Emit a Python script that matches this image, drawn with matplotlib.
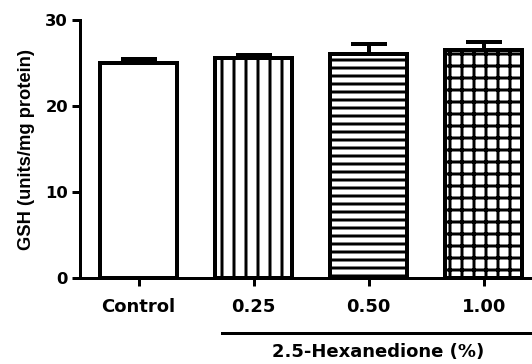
import matplotlib
matplotlib.use("Agg")
import matplotlib.pyplot as plt
import matplotlib.transforms as mtransforms

categories = ["Control", "0.25", "0.50", "1.00"]
means = [25.0, 25.6, 26.0, 26.5]
errors = [0.5, 0.3, 1.2, 1.0]
hatches = ["", "||", "---", "++"]
y_ticks = [0, 10, 20, 30]
group_label = "2.5-Hexanedione (%)"
y_label = "GSH (units/mg protein)"

DPI = 144
plt.rcParams['font.family'] = ['DejaVu Sans']
plt.rcParams['font.weight'] = 'bold'
plt.rcParams['hatch.linewidth'] = 1.5

fig = plt.figure(figsize=(532 / DPI, 364 / DPI), dpi=DPI)
ax = fig.add_axes([80 / 532, 86 / 364, 1 - 80 / 532, (278 - 20) / 364])

x = list(range(len(categories)))
ax.bar(x, means, width=0.67, color="white", edgecolor="black",
       linewidth=2.0, hatch=hatches, zorder=2)
ax.errorbar(x, means, yerr=[[0] * len(errors), errors], fmt="none",
            ecolor="black", elinewidth=2.0, capsize=9, capthick=2.0, zorder=1)

ax.set_xlim(-0.509, 3.42)
ax.set_ylim(0, 30)
ax.set_yticks(y_ticks)
ax.set_xticks(x)
ax.set_xticklabels(categories, fontsize=9, fontweight="bold")
ax.set_yticklabels([str(v) for v in y_ticks], fontsize=8.2, fontweight="bold")
ax.set_ylabel(y_label, fontsize=9.2, fontweight="bold", labelpad=5,
              family=['Liberation Sans', 'DejaVu Sans'])

for s in ["top", "right"]:
    ax.spines[s].set_visible(False)
for s in ["left", "bottom"]:
    ax.spines[s].set_linewidth(1.5)
ax.tick_params(axis="both", width=1.5, length=4, direction="out")
ax.tick_params(axis="x", pad=6)
ax.tick_params(axis="y", pad=2)

trans = mtransforms.blended_transform_factory(ax.transData, ax.transAxes)
ax.plot([0.726, 3.42], [-0.213, -0.213], color="black", lw=1.5,
        transform=trans, clip_on=False)
ax.text(2.08, -0.287, group_label, transform=trans, ha="center", va="center",
        fontsize=9, fontweight="bold")

fig.savefig("out.png", dpi=DPI)
